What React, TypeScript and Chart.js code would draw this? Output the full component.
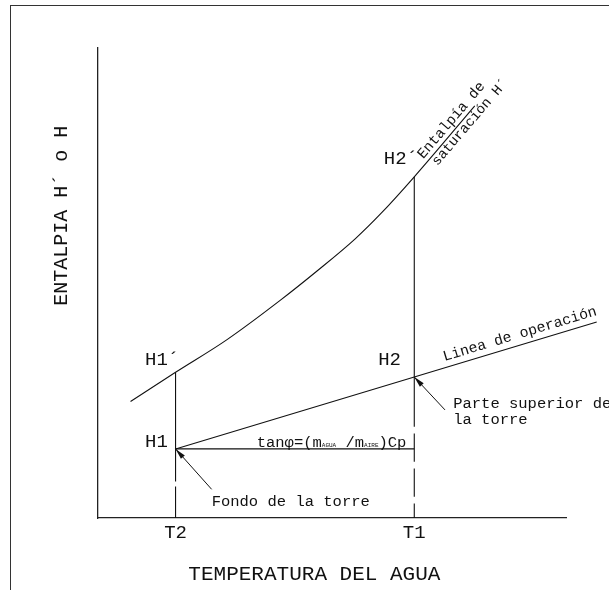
import React, { useEffect, useRef } from 'react';
import { Chart, registerables } from 'chart.js';

Chart.register(...registerables);

// ---- data (temperature units on x, enthalpy units on y) ----
const tempTicks = [16.6, 67.5];
const tempTickLabels = ['T2', 'T1'];

const satTemp = [7.0, 16.6, 27.5, 38.9, 46.7, 54.9, 60.4, 67.5, 80.4];
const satEnthalpy = [24.8, 31.0, 37.9, 46.3, 52.5, 59.4, 64.8, 72.6, 87.7];

const opTemp = [16.6, 67.5, 106.4];
const opEnthalpy = [14.7, 30.0, 41.7];

const baseTemp = [16.6, 67.5];
const baseEnthalpy = [14.7, 14.7];

const t2Upper = [31.0, 14.7];
const t2Lower = [14.7, 0];
const t1Upper = [72.6, 19.4];
const t1Lower = [19.4, 0];

const fondoArrow = [24.3, 6.1, 16.6, 14.7];
const parteArrow = [74.05, 23.0, 67.5, 30.0];

const xTitle = 'TEMPERATURA DEL AGUA';
const yTitle = 'ENTALPIA H´ o H';

const MONO = "'Liberation Mono', 'DejaVu Sans Mono', monospace";
const INK = '#111';

const pts = (xs: number[], ys: number[]) => xs.map((x, i) => ({ x, y: ys[i] }));

const annotate = {
  id: 'annotate',
  afterDatasetsDraw(chart: any) {
    const { ctx, scales } = chart;
    const xs = scales.x;
    const ys = scales.y;
    const px = (v: number) => xs.getPixelForValue(v);
    const py = (v: number) => ys.getPixelForValue(v);
    ctx.save();
    ctx.fillStyle = INK;
    ctx.strokeStyle = INK;

    const text = (s: string, xv: number, yv: number, size: number, align: CanvasTextAlign = 'left', rot = 0, base: CanvasTextBaseline = 'middle') => {
      ctx.save();
      ctx.font = `${size}px ${MONO}`;
      ctx.textAlign = align;
      ctx.textBaseline = base;
      ctx.translate(px(xv), py(yv));
      if (rot) ctx.rotate(rot);
      ctx.fillText(s, 0, 0);
      ctx.restore();
    };

    const arrow = (a: number[]) => {
      const ax = px(a[0]), ay = py(a[1]), bx = px(a[2]), by = py(a[3]);
      ctx.lineWidth = 1;
      ctx.beginPath();
      ctx.moveTo(ax, ay);
      ctx.lineTo(bx, by);
      ctx.stroke();
      const ang = Math.atan2(by - ay, bx - ax);
      const L = 11, W = 2.6;
      ctx.beginPath();
      ctx.moveTo(bx, by);
      ctx.lineTo(bx - L * Math.cos(ang) + W * Math.sin(ang), by - L * Math.sin(ang) - W * Math.cos(ang));
      ctx.lineTo(bx - L * Math.cos(ang) - W * Math.sin(ang), by - L * Math.sin(ang) + W * Math.cos(ang));
      ctx.closePath();
      ctx.fill();
    };

    arrow(fondoArrow);
    arrow(parteArrow);

    // point labels
    text('H1´', 10.1, 33.6, 19);
    text('H1', 10.1, 16.2, 19);
    text('H2', 59.8, 33.6, 19);
    text('H2´', 61.0, 76.3, 19);

    // leader texts
    text('Fondo de la torre', 24.3, 3.5, 15.5);
    text('Parte superior de', 75.8, 24.3, 15.5);
    text('la torre', 75.8, 20.9, 15.5);

    // operation line label, rotated along the line
    const n = opTemp.length;
    const opAng = Math.atan2(py(opEnthalpy[n - 1]) - py(opEnthalpy[0]), px(opTemp[n - 1]) - px(opTemp[0]));
    text('Linea de operación', 90.0, 39.1, 14.8, 'center', opAng);

    // saturation curve label, rotated along curve end
    const m = satTemp.length;
    const satAng = Math.atan2(py(satEnthalpy[m - 1]) - py(satEnthalpy[m - 2]), px(satTemp[m - 1]) - px(satTemp[m - 2]));
    text('Entalpía de', 75.4, 84.6, 14.5, 'center', satAng);
    text('saturación H´', 79.4, 84.2, 14, 'center', satAng);

    // tan formula
    let cx = px(33.9);
    const by = py(15.1);
    ctx.textAlign = 'left';
    ctx.textBaseline = 'alphabetic';
    const seg = (s: string, size: number) => {
      ctx.font = `${size}px ${MONO}`;
      ctx.fillText(s, cx, by);
      cx += ctx.measureText(s).width;
    };
    seg('tanφ=(m', 15.5);
    seg('AGUA', 6);
    seg(' /m', 15.5);
    seg('AIRE', 6);
    seg(')Cp', 15.5);

    // axis titles
    text(xTitle, 46.2, -12.1, 21, 'center');
    text(yTitle, -7.7, 64.3, 20, 'center', -Math.PI / 2);

    ctx.restore();
  },
};

export default function App() {
  const ref = useRef<HTMLCanvasElement>(null);

  useEffect(() => {
    const line = (data: { x: number; y: number }[], extra: any = {}) => ({
      data,
      showLine: true,
      borderColor: INK,
      borderWidth: 1.1,
      pointRadius: 0,
      clip: false,
      ...extra,
    });
    const chart = new Chart(ref.current!, {
      type: 'scatter',
      data: {
        datasets: [
          line(pts(satTemp, satEnthalpy), { cubicInterpolationMode: 'monotone' }),
          line(pts(opTemp, opEnthalpy)),
          line(pts(baseTemp, baseEnthalpy)),
          line(pts([tempTicks[0], tempTicks[0]], t2Upper)),
          line(pts([tempTicks[0], tempTicks[0]], t2Lower), { borderDash: [32.7, 5] }),
          line(pts([tempTicks[1], tempTicks[1]], t1Upper)),
          line(pts([tempTicks[1], tempTicks[1]], t1Lower), { borderDash: [28.4, 6.6], borderDashOffset: 28.4 }),
        ],
      } as any,
      options: {
        responsive: false,
        animation: false,
        events: [],
        layout: { padding: { top: 48, right: 42.3, left: 0, bottom: 0 } },
        plugins: { legend: { display: false }, tooltip: { enabled: false } },
        scales: {
          x: {
            type: 'linear',
            min: 0,
            max: 100,
            afterBuildTicks: (s: any) => {
              s.ticks = tempTicks.map((v) => ({ value: v }));
            },
            afterFit: (s: any) => {
              s.height = 72;
            },
            ticks: {
              callback: (_v: any, i: number) => tempTickLabels[i] ?? '',
              font: { family: MONO, size: 19 },
              color: INK,
              padding: 4,
              maxRotation: 0,
              autoSkip: false,
            },
            grid: { display: false, drawTicks: false },
            border: { display: true, color: '#222', width: 1.3 },
          },
          y: {
            type: 'linear',
            min: 0,
            max: 100,
            afterFit: (s: any) => {
              s.width = 97.7;
            },
            ticks: { display: false },
            grid: { display: false, drawTicks: false },
            border: { display: true, color: '#222', width: 1.3 },
          },
        },
      } as any,
      plugins: [annotate],
    });
    return () => chart.destroy();
  }, []);

  return (
    <div style={{ position: 'absolute', left: 0, top: 0, width: 609, height: 590, overflow: 'hidden', background: '#fff' }}>
      <div
        style={{
          position: 'absolute',
          left: 10,
          top: 5,
          width: 700,
          height: 700,
          borderLeft: '1.5px solid #333',
          borderTop: '1.5px solid #333',
        }}
      />
      <canvas ref={ref} width={609} height={590} style={{ position: 'absolute', left: 0, top: 0, width: 609, height: 590 }} />
    </div>
  );
}
